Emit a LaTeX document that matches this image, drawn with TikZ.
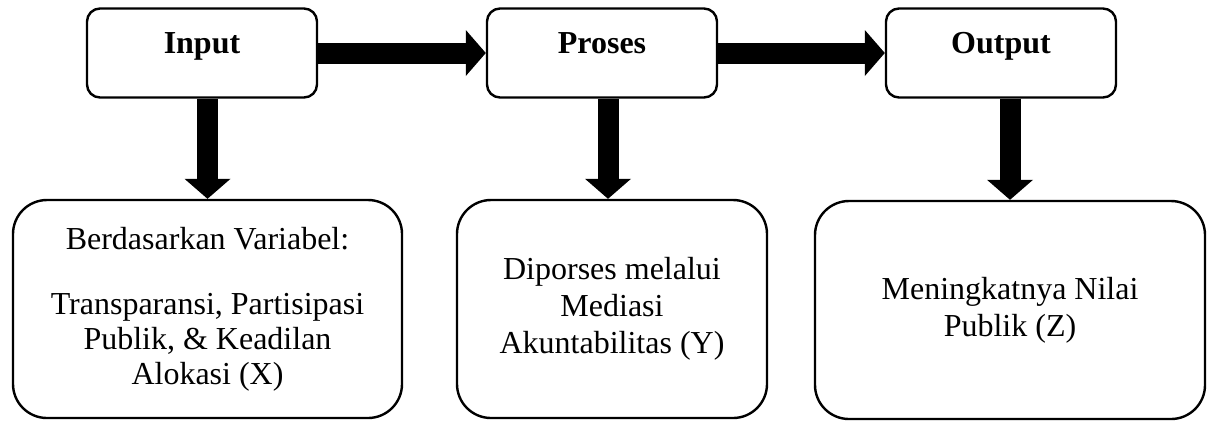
\documentclass[tikz,border=0pt]{standalone}
\usepackage{fontspec}
\setmainfont{Liberation Serif}
\usetikzlibrary{arrows.meta}
\tikzset{
    stagenode/.style = {
        draw=black,
        line width=1.2pt,
        rounded corners=6.5pt,
        minimum width=115pt,
        minimum height=44.5pt,
        text height=9pt,
        text depth=9pt,
        inner sep=0pt,
        font=\bfseries\fontsize{16}{18}\selectfont
    },
    varnode/.style = {
        draw=black,
        line width=1.2pt,
        rounded corners=17pt,
        minimum height=109pt,
        align=center,
        inner sep=0pt,
        font=\fontsize{16}{18.5}\selectfont
    },
    bigarrow/.style = {
        line width=10.5pt,
        -{Triangle[width=23pt,length=10pt,line width=0pt]}
    }
}

\begin{document}
\begin{tikzpicture}[x=0.5pt,y=-0.5pt]
    \useasboundingbox (0,0) rectangle (1208,420);
    % top row
    \node [stagenode] (input)  at (202,53)  {Input};
    \node [stagenode] (proses) at (602,53)  {Proses};
    \node [stagenode] (output) at (1001,53) {Output};
    % bottom row
    \node [varnode, minimum width=194.5pt, font=\fontsize{16}{17.5}\selectfont] (varx) at (207.5,309)
        {Berdasarkan Variabel:\\[15pt]Transparansi, Partisipasi\\Publik, \& Keadilan\\Alokasi (X)};
    \node [varnode, minimum width=155pt] (vary) at (612,309)
        {Diporses melalui\\Mediasi\\Akuntabilitas (Y)};
    \node [varnode, minimum width=195pt] (varz) at (1010,310)
        {Meningkatnya Nilai\\Publik (Z)};
    % arrows
    \draw [bigarrow] (input) -- (proses);
    \draw [bigarrow] (proses) -- (output);
    \draw [bigarrow] (input.south -| varx.north) -- (varx.north);
    \draw [bigarrow] (proses.south -| 608,0) -- (vary.north -| 608,0);
    \draw [bigarrow] (output.south -| varz.north) -- (varz.north);
\end{tikzpicture}
\end{document}
